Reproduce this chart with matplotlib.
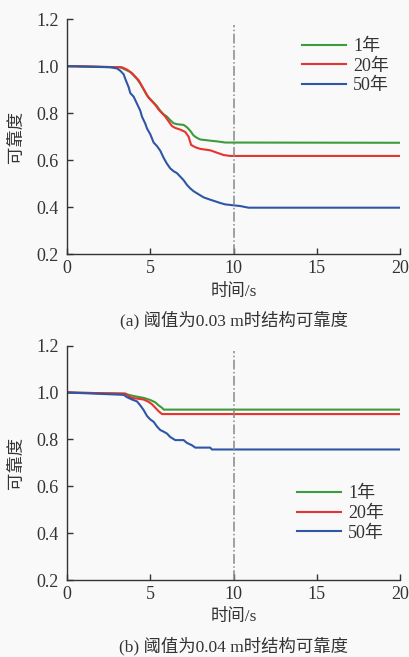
import numpy as np
import matplotlib
matplotlib.use("Agg")
import matplotlib.pyplot as plt

plt.rcParams['font.family'] = ['Liberation Serif', 'Noto Sans CJK SC']
plt.rcParams['axes.unicode_minus'] = False

# (a) 阈值 0.03 m
a_t_1 = [0, 3.2, 3.5, 3.8, 4.0, 4.2, 4.4, 4.6, 4.8, 5.0, 5.2, 5.4, 5.6, 5.8, 6.0, 6.2, 6.4, 6.6,
         7.0, 7.2, 7.4, 7.6, 7.8, 8.0, 8.6, 9.0, 9.5, 20]
a_r_1 = [1.0, 0.995, 0.985, 0.975, 0.96, 0.945, 0.925, 0.90, 0.875, 0.86, 0.845, 0.83, 0.81, 0.795,
         0.785, 0.77, 0.757, 0.753, 0.75, 0.74, 0.725, 0.705, 0.695, 0.688, 0.683, 0.68, 0.675, 0.674]
a_t_20 = [0, 3.3, 3.6, 3.9, 4.1, 4.3, 4.5, 4.7, 4.9, 5.1, 5.3, 5.5, 5.7, 5.9, 6.1, 6.3, 6.5, 6.8,
          7.1, 7.3, 7.45, 7.7, 8.0, 8.6, 9.0, 9.4, 9.8, 20]
a_r_20 = [1.0, 0.995, 0.985, 0.97, 0.955, 0.94, 0.915, 0.89, 0.865, 0.85, 0.835, 0.815, 0.80, 0.785,
          0.765, 0.745, 0.737, 0.73, 0.72, 0.70, 0.665, 0.655, 0.648, 0.642, 0.632, 0.622, 0.618, 0.618]
a_t_50 = [0, 2.6, 3.0, 3.2, 3.4, 3.5, 3.7, 3.8, 4.0, 4.2, 4.4, 4.5, 4.7, 4.8, 5.0, 5.2, 5.4, 5.6,
          5.8, 6.0, 6.2, 6.4, 6.6, 6.8, 7.0, 7.2, 7.4, 7.6, 7.9, 8.2, 8.6, 8.9, 9.2, 9.5, 10.4, 10.9, 20]
a_r_50 = [1.0, 0.995, 0.99, 0.98, 0.965, 0.945, 0.91, 0.885, 0.87, 0.84, 0.81, 0.785, 0.755, 0.735,
          0.71, 0.675, 0.66, 0.64, 0.61, 0.585, 0.565, 0.553, 0.545, 0.53, 0.515, 0.495, 0.48, 0.468,
          0.455, 0.442, 0.432, 0.425, 0.418, 0.412, 0.405, 0.398, 0.398]

# (b) 阈值 0.04 m
b_t_1 = [0, 3.5, 3.7, 4.0, 4.6, 5.0, 5.3, 5.5, 5.7, 5.8, 20]
b_r_1 = [1.0, 0.995, 0.99, 0.985, 0.977, 0.968, 0.958, 0.945, 0.935, 0.927, 0.927]
b_t_20 = [0, 3.5, 3.7, 3.9, 4.6, 4.9, 5.1, 5.3, 5.5, 5.7, 20]
b_r_20 = [1.0, 0.995, 0.985, 0.977, 0.97, 0.96, 0.95, 0.935, 0.92, 0.908, 0.908]
b_t_50 = [0, 3.4, 3.6, 3.9, 4.2, 4.4, 4.6, 4.8, 5.0, 5.2, 5.4, 5.6, 5.8, 6.0, 6.2, 6.5, 7.0,
          7.2, 7.5, 7.7, 8.6, 8.7, 20]
b_r_50 = [1.0, 0.99, 0.98, 0.97, 0.962, 0.945, 0.925, 0.9, 0.885, 0.875, 0.855, 0.84, 0.833, 0.825,
          0.81, 0.797, 0.797, 0.785, 0.775, 0.765, 0.765, 0.757, 0.757]

labels = ['1年', '20年', '50年']
colors = ['#3d9a3d', '#e8322e', '#2f56a6']
captions = ['(a) 阈值为0.03 m时结构可靠度', '(b) 阈值为0.04 m时结构可靠度']

bg = '#f9f9f9'
fig = plt.figure(figsize=(4.09, 6.57), dpi=100, facecolor=bg)
ax1 = fig.add_axes([0.164, 0.613, 0.814, 0.358])
ax2 = fig.add_axes([0.164, 0.117, 0.814, 0.357])

panels = [
    (ax1, [(a_t_1, a_r_1), (a_t_20, a_r_20), (a_t_50, a_r_50)], (0.685, 0.95)),
    (ax2, [(b_t_1, b_r_1), (b_t_20, b_r_20), (b_t_50, b_r_50)], (0.67, 0.435)),
]

for i, (ax, series, leg_pos) in enumerate(panels):
    ax.set_facecolor(bg)
    for (t, r), c, lab in zip(series, colors, labels):
        ax.plot(t, r, color=c, lw=1.5, label=lab)
    ax.plot([10, 10], [0.2, 1.175], color='#888888', lw=1.1, linestyle='-.')
    ax.set_xlim(0, 20)
    ax.set_ylim(0.2, 1.2)
    ax.set_xticks([0, 5, 10, 15, 20])
    ax.set_yticks([0.2, 0.4, 0.6, 0.8, 1.0, 1.2])
    ax.set_yticklabels(['0.2', '0.4', '0.6', '0.8', '1.0', '1.2'])
    for s in ['top', 'right']:
        ax.spines[s].set_visible(False)
    for s in ['left', 'bottom']:
        ax.spines[s].set_color('#333333')
        ax.spines[s].set_linewidth(1.0)
    ax.tick_params(direction='in', length=4, width=1.0, color='#333333',
                   labelsize=13, labelcolor='#333333')
    ax.tick_params(axis='x', pad=4)
    ax.tick_params(axis='y', pad=6)
    ax.set_xlabel('时间/s', fontsize=12.5, color='#333333')
    ax.xaxis.set_label_coords(0.5, -0.125)
    ax.set_ylabel('可靠度', fontsize=12.5, color='#333333')
    ax.yaxis.set_label_coords(-0.125, 0.5)
    ax.text(0.5, -0.28, captions[i], transform=ax.transAxes, ha='center', va='center',
            fontsize=12.5, color='#333333')
    ax.legend(loc='upper left', bbox_to_anchor=leg_pos, frameon=False, fontsize=13,
              handlelength=2.4, handletextpad=0.4, labelspacing=0.15, borderaxespad=0,
              labelcolor='#333333')

fig.savefig('out.png', dpi=100, facecolor=bg)
